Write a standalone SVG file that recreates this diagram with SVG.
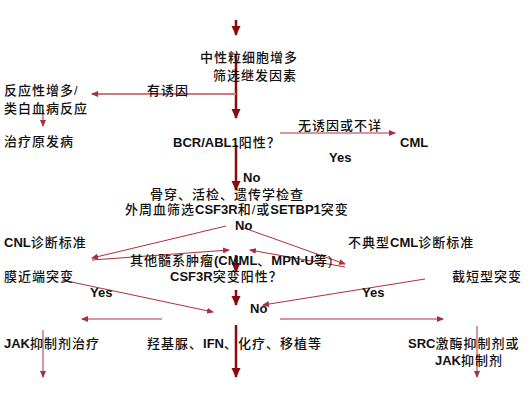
<svg xmlns="http://www.w3.org/2000/svg" width="532" height="406" viewBox="0 0 532 406">
<style>
text{font-family:"Liberation Sans","Noto Sans CJK SC",sans-serif;font-size:13px;font-weight:bold;fill:#111}
.c{letter-spacing:1px;font-weight:500}
.thick{stroke:#8c0a0a;stroke-width:2.5;fill:none}
.thin{stroke:#a8303c;stroke-width:1;fill:none}
.pale{stroke:#c87a80;stroke-width:2;fill:none}
</style>
<defs>
<marker id="ah" markerUnits="userSpaceOnUse" markerWidth="10" markerHeight="10" refX="9" refY="5" orient="auto"><path d="M0,0.5 L10,5 L0,9.5 z" fill="#8c0a0a"/></marker>
<marker id="at" markerUnits="userSpaceOnUse" markerWidth="7" markerHeight="6" refX="6" refY="3" orient="auto"><path d="M0,0 L7,3 L0,6 z" fill="#a8303c"/></marker>
</defs>
<rect width="532" height="406" fill="#fff"/>
<g id="connectors">
<line class="thick" x1="236" y1="20" x2="236" y2="35" marker-end="url(#ah)"/>
<line class="thick" x1="236" y1="55" x2="236" y2="118" marker-end="url(#ah)"/>
<line class="thick" x1="236" y1="145" x2="236" y2="190" marker-end="url(#ah)"/>
<line class="thick" x1="236" y1="255" x2="236" y2="272" marker-end="url(#ah)"/>
<line class="thick" x1="236" y1="290" x2="236" y2="305" marker-end="url(#ah)"/>
<line class="thick" x1="236" y1="325" x2="236" y2="377" marker-end="url(#ah)"/>
<line class="pale" x1="236" y1="94" x2="92" y2="94" marker-end="url(#at)"/>
<line class="thin" x1="43" y1="110" x2="43" y2="126" marker-end="url(#at)"/>
<line class="thin" x1="280" y1="133" x2="395" y2="133" marker-end="url(#at)"/>
<line class="thin" x1="226" y1="226" x2="92" y2="258" marker-end="url(#at)"/>
<line class="thin" x1="244" y1="228" x2="345" y2="264" marker-end="url(#at)"/>
<line class="thin" x1="92" y1="260" x2="229" y2="250" marker-end="url(#at)"/>
<line class="thin" x1="345" y1="267" x2="250" y2="250" marker-end="url(#at)"/>
<line class="thin" x1="62" y1="280" x2="213" y2="312" marker-end="url(#at)"/>
<line class="thin" x1="425" y1="279" x2="263" y2="305" marker-end="url(#at)"/>
<line class="thin" x1="162" y1="319" x2="82" y2="319" marker-end="url(#at)"/>
<line class="thin" x1="280" y1="319" x2="443" y2="319" marker-end="url(#at)"/>
<line class="thin" x1="43" y1="330" x2="43" y2="377" marker-end="url(#at)"/>
<line class="thin" x1="477" y1="326" x2="477" y2="377" marker-end="url(#at)"/>
</g>
<g id="n-start"><text x="200" y="62"><tspan class="c">中性粒细胞增多</tspan></text><text x="213" y="80"><tspan class="c">筛选继发因素</tspan></text></g>
<g id="l-youyin"><text x="147" y="95"><tspan class="c">有诱因</tspan></text></g>
<g id="n-reactive"><text x="4" y="95"><tspan class="c">反应性增多/</tspan></text><text x="4" y="113"><tspan class="c">类白血病反应</tspan></text></g>
<g id="n-treat-primary"><text x="4" y="146"><tspan class="c">治疗原发病</tspan></text></g>
<g id="n-bcr"><text x="173" y="147">BCR/ABL1<tspan class="c">阳性？</tspan></text></g>
<g id="l-wuyouyin"><text x="298" y="130"><tspan class="c">无诱因或不详</tspan></text></g>
<g id="n-cml"><text x="400" y="147">CML</text></g>
<g id="l-yes1"><text x="329" y="162">Yes</text></g>
<g id="l-no1"><text x="243" y="182">No</text></g>
<g id="n-exam"><text x="150" y="199"><tspan class="c">骨穿、活检、遗传学检查</tspan></text><text x="125" y="214"><tspan class="c">外周血筛选</tspan>CSF3R<tspan class="c">和/或</tspan>SETBP1<tspan class="c">突变</tspan></text></g>
<g id="l-no2"><text x="235" y="230">No</text></g>
<g id="n-cnl"><text x="4" y="247">CNL<tspan class="c">诊断标准</tspan></text></g>
<g id="n-acml"><text x="348" y="247"><tspan class="c">不典型</tspan>CML<tspan class="c">诊断标准</tspan></text></g>
<g id="n-other"><text x="130" y="265"><tspan class="c">其他髓系肿瘤</tspan>(CMML<tspan class="c">、</tspan>MPN-U<tspan class="c">等)</tspan></text></g>
<g id="n-csf3r"><text x="170" y="281">CSF3R<tspan class="c">突变阳性？</tspan></text></g>
<g id="n-membrane"><text x="4" y="281"><tspan class="c">膜近端突变</tspan></text></g>
<g id="n-truncated"><text x="452" y="281"><tspan class="c">截短型突变</tspan></text></g>
<g id="l-yes2"><text x="90" y="297">Yes</text></g>
<g id="l-yes3"><text x="362" y="297">Yes</text></g>
<g id="l-no3"><text x="250" y="313">No</text></g>
<g id="n-jak"><text x="4" y="348">JAK<tspan class="c">抑制剂治疗</tspan></text></g>
<g id="n-hu"><text x="147" y="348"><tspan class="c">羟基脲、</tspan>IFN<tspan class="c">、化疗、移植等</tspan></text></g>
<g id="n-src"><text x="408" y="348">SRC<tspan class="c">激酶抑制剂或</tspan></text><text x="435" y="365">JAK<tspan class="c">抑制剂</tspan></text></g>
</svg>
